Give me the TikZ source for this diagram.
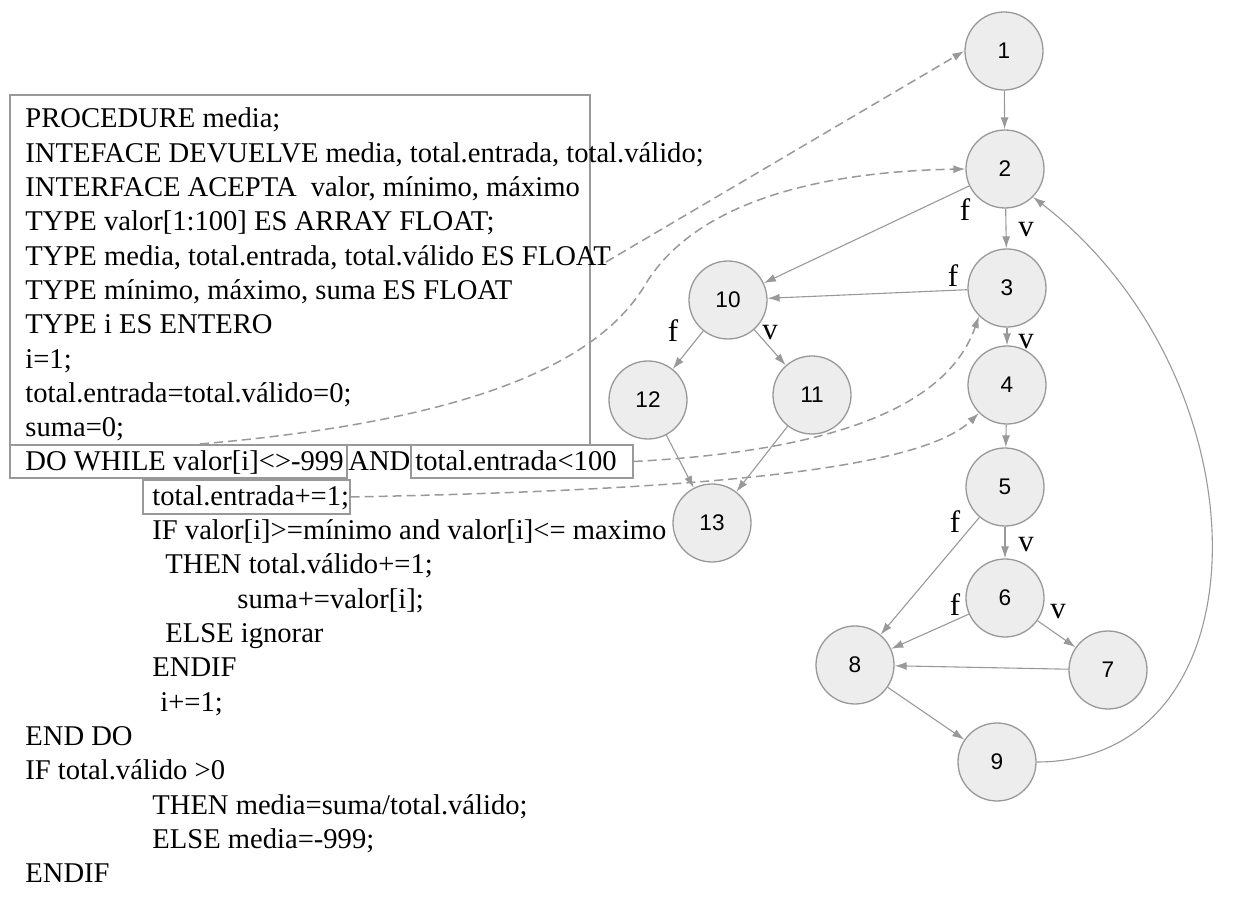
\documentclass[tikz,border=0pt]{standalone}
\usepackage{fontspec}
\setmainfont{Liberation Serif}
\newfontfamily\numfont{Liberation Sans}
\usetikzlibrary{arrows.meta}
\definecolor{lnc}{HTML}{999999}
\definecolor{cfill}{HTML}{EDEDED}
\tikzset{
  code/.style={anchor=base west, inner sep=0pt, font=\fontsize{14.3}{17}\selectfont},
  circ/.style={circle, draw=lnc, fill=cfill, line width=0.65pt, minimum size=39pt, inner sep=0pt, font=\numfont\fontsize{11.3}{13}\selectfont},
  edge/.style={draw=lnc, line width=0.55pt, -{Latex[length=6pt,width=4pt]}},
  dedge/.style={edge, line width=0.75pt, dash pattern=on 4.5pt off 2.5pt},
  box/.style={draw=lnc, line width=0.65pt, inner sep=0pt},
  lab/.style={inner sep=0pt, font=\fontsize{15.5}{17}\selectfont},
}
\begin{document}
\begin{tikzpicture}[x=0.5pt,y=-0.5pt]
\useasboundingbox (0,0) rectangle (1248,897);
% boxes
\node[box, minimum width=290pt, minimum height=175pt] (bbig) at (300,270) {};
\node[box, minimum width=168.5pt, minimum height=16.5pt] (bw1) at (178.5,461.5) {};
\node[box, minimum width=111pt, minimum height=16.5pt] (bw2) at (522,461.5) {};
\node[box, minimum width=103.5pt, minimum height=17pt] (binc) at (246.5,497) {};
% code lines
\node[code] (t0) at (25,128) {PROCEDURE media;};
\node[code] (t1) at (25,162.3) {INTEFACE DEVUELVE media, total.entrada, total.válido;};
\node[code] (t2) at (25,196.6) {INTERFACE ACEPTA\ \ valor, mínimo, máximo};
\node[code] (t3) at (25,230.9) {TYPE valor[1:100] ES ARRAY FLOAT;};
\node[code] (t4) at (25,265.2) {TYPE media, total.entrada, total.válido ES FLOAT};
\node[code] (t5) at (25,299.5) {TYPE mínimo, máximo, suma ES FLOAT};
\node[code] (t6) at (25,333.8) {TYPE i ES ENTERO};
\node[code] (t7) at (25,368.1) {i=1;};
\node[code] (t8) at (25,402.4) {total.entrada=total.válido=0;};
\node[code] (t9) at (25,436.7) {suma=0;};
\node[code] (t10a) at (25,471) {DO WHILE valor[i]<>-999};
\node[code] (t10b) at (348,471) {AND};
\node[code] (t10c) at (415,471) {total.entrada<100};
\node[code] (t11) at (152,505.3) {total.entrada+=1;};
\node[code] (t12) at (152,539.6) {IF valor[i]>=mínimo and valor[i]<= maximo};
\node[code] (t13) at (165,573.9) {THEN total.válido+=1;};
\node[code] (t14) at (237,608.2) {suma+=valor[i];};
\node[code] (t15) at (165,642.5) {ELSE ignorar};
\node[code] (t16) at (152,676.8) {ENDIF};
\node[code] (t17) at (160,711.1) {i+=1;};
\node[code] (t18) at (25,745.4) {END DO};
\node[code] (t19) at (25,779.7) {IF total.válido >0};
\node[code] (t20) at (152,814) {THEN media=suma/total.válido;};
\node[code] (t21) at (152,848.3) {ELSE media=-999;};
\node[code] (t22) at (25,882.6) {ENDIF};
% graph nodes
\node[circ] (n1) at (1004,51) {1};
\node[circ] (n2) at (1005,169) {2};
\node[circ] (n3) at (1007,288) {3};
\node[circ] (n4) at (1007,385) {4};
\node[circ] (n5) at (1005,487) {5};
\node[circ] (n6) at (1005,598) {6};
\node[circ] (n7) at (1108,670) {7};
\node[circ] (n8) at (855,665) {8};
\node[circ] (n9) at (997,762) {9};
\node[circ] (n10) at (728,300) {10};
\node[circ] (n11) at (812,395) {11};
\node[circ] (n12) at (648,400) {12};
\node[circ] (n13) at (712,523) {13};
% labels
\node[lab] (lf1) at (965,210) {f};
\node[lab] (lv1) at (1026,230) {v};
\node[lab] (lf2) at (953,276) {f};
\node[lab] (lv2) at (1026,342) {v};
\node[lab] (lf3) at (673,331) {f};
\node[lab] (lv3) at (770,333) {v};
\node[lab] (lf4) at (955,522) {f};
\node[lab] (lv4) at (1026,545) {v};
\node[lab] (lf5) at (955,605) {f};
\node[lab] (lv5) at (1058,612) {v};
% solid edges
\draw[edge] (n1) -- (n2);
\draw[edge] (n2) -- (n3);
\draw[edge] (n2) -- (n10);
\draw[edge] (n3) -- (n10);
\draw[edge] (n3) -- (n4);
\draw[edge] (n4) -- (n5);
\draw[edge] (n5) -- (n6);
\draw[edge] (n5) -- (n8);
\draw[edge] (n6) -- (n7);
\draw[edge] (n6) -- (n8);
\draw[edge] (n7) -- (n8);
\draw[edge] (n8) -- (n9);
\draw[edge] (n10) -- (n12);
\draw[edge] (n10) -- (n11);
\draw[edge] (n12) -- (n13);
\draw[edge] (n11) -- (n13);
\draw[edge] (n9.east) .. controls (1270,762) and (1270,380) .. (n2.-45);
% dashed connectors
\coordinate (c1) at (606,262);
\coordinate (c2) at (200,444);
\draw[dedge] (c1) -- (n1.west);
\draw[dedge] (c2) .. controls (480,420) and (600,360) .. (645,285) .. controls (690,210) and (800,172) .. (n2.west);
\draw[dedge] (bw2.east) .. controls (850,450) and (950,400) .. (n3.-135);
\draw[dedge] (binc.east) .. controls (700,490) and (920,470) .. (n4.-135);
\end{tikzpicture}
\end{document}
